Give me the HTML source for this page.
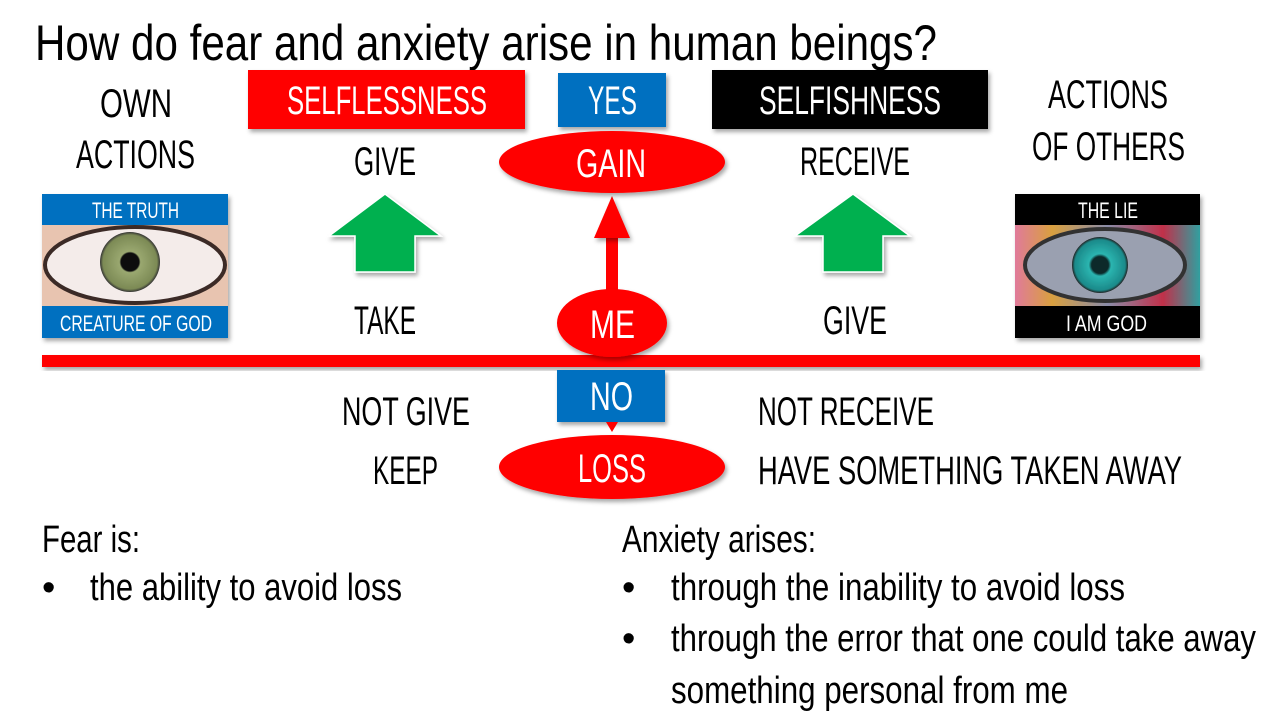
<!DOCTYPE html>
<html><head><meta charset="utf-8"><style>
html,body{margin:0;padding:0;background:#fff;width:1280px;height:720px;overflow:hidden}
svg text{font-family:"Liberation Sans Narrow","Liberation Sans",sans-serif}
</style></head><body>
<svg width="1280" height="720" viewBox="0 0 1280 720" xmlns="http://www.w3.org/2000/svg">
<defs>
<filter id="sh" x="-10%" y="-10%" width="130%" height="140%"><feDropShadow dx="2" dy="3" stdDeviation="2" flood-color="#000" flood-opacity="0.35"/></filter>
<radialGradient id="iris1" cx="50%" cy="50%" r="50%"><stop offset="0" stop-color="#111"/><stop offset="0.3" stop-color="#111"/><stop offset="0.35" stop-color="#9aa870"/><stop offset="0.9" stop-color="#7c8a55"/><stop offset="1" stop-color="#333"/></radialGradient>
<radialGradient id="iris2" cx="50%" cy="50%" r="50%"><stop offset="0" stop-color="#0a2a2a"/><stop offset="0.3" stop-color="#0a2a2a"/><stop offset="0.4" stop-color="#2bb5b0"/><stop offset="0.9" stop-color="#1b8a8a"/><stop offset="1" stop-color="#222"/></radialGradient>
<linearGradient id="rain" x1="0" x2="1"><stop offset="0" stop-color="#e07a9a"/><stop offset="0.2" stop-color="#d9a040"/><stop offset="0.5" stop-color="#8a8ca8"/><stop offset="0.8" stop-color="#c0304a"/><stop offset="1" stop-color="#30a0a0"/></linearGradient>
</defs>
<g font-size="48" fill="#000">
<text x="35" y="60" textLength="902" lengthAdjust="spacingAndGlyphs" font-size="50">How do fear and anxiety arise in human beings?</text>
</g>
<g font-size="40" fill="#000">
<text x="100" y="117" textLength="72" lengthAdjust="spacingAndGlyphs">OWN</text>
<text x="76" y="168" textLength="119" lengthAdjust="spacingAndGlyphs">ACTIONS</text>
<text x="1048" y="108" textLength="120" lengthAdjust="spacingAndGlyphs">ACTIONS</text>
<text x="1032" y="160" textLength="153" lengthAdjust="spacingAndGlyphs">OF OTHERS</text>
<text x="354" y="175" textLength="62" lengthAdjust="spacingAndGlyphs">GIVE</text>
<text x="800" y="175" textLength="110" lengthAdjust="spacingAndGlyphs">RECEIVE</text>
<text x="354" y="334" textLength="62" lengthAdjust="spacingAndGlyphs">TAKE</text>
<text x="823" y="334" textLength="64" lengthAdjust="spacingAndGlyphs">GIVE</text>
<text x="342" y="425" textLength="128" lengthAdjust="spacingAndGlyphs">NOT GIVE</text>
<text x="758" y="425" textLength="176" lengthAdjust="spacingAndGlyphs">NOT RECEIVE</text>
<text x="373" y="484" textLength="65" lengthAdjust="spacingAndGlyphs">KEEP</text>
<text x="758" y="484" textLength="424" lengthAdjust="spacingAndGlyphs">HAVE SOMETHING TAKEN AWAY</text>
</g>
<!-- top boxes -->
<rect x="248" y="70" width="277" height="59" fill="#f00" filter="url(#sh)"/>
<text x="287" y="114" font-size="40" fill="#fff" textLength="200" lengthAdjust="spacingAndGlyphs">SELFLESSNESS</text>
<rect x="558" y="73" width="108" height="54" fill="#0070c0" filter="url(#sh)"/>
<text x="588" y="114" font-size="40" fill="#fff" textLength="49" lengthAdjust="spacingAndGlyphs">YES</text>
<rect x="712" y="70" width="276" height="59" fill="#000" filter="url(#sh)"/>
<text x="759" y="114" font-size="40" fill="#fff" textLength="182" lengthAdjust="spacingAndGlyphs">SELFISHNESS</text>
<!-- green arrows -->
<polygon points="385,194 441,236 415,236 415,272 355,272 355,236 329,236" fill="#00b050" stroke="#fff" stroke-width="1.5" filter="url(#sh)"/>
<polygon points="853,194 910,236 883,236 883,272 823,272 823,236 795,236" fill="#00b050" stroke="#fff" stroke-width="1.5" filter="url(#sh)"/>
<!-- red line -->
<rect x="42" y="355" width="1158" height="12" fill="#f00" filter="url(#sh)"/>
<!-- red arrow up -->
<rect x="606" y="236" width="12" height="60" fill="#f00"/>
<polygon points="612,196 630,238 594,238" fill="#f00" filter="url(#sh)"/>
<!-- ellipses -->
<ellipse cx="612" cy="162" rx="113" ry="31" fill="#f00" filter="url(#sh)"/>
<text x="576" y="177" font-size="40" fill="#fff" textLength="70" lengthAdjust="spacingAndGlyphs">GAIN</text>
<ellipse cx="612" cy="323" rx="55" ry="34" fill="#f00" filter="url(#sh)"/>
<text x="590" y="338" font-size="40" fill="#fff" textLength="45" lengthAdjust="spacingAndGlyphs">ME</text>
<rect x="557" y="370" width="108" height="52" fill="#0070c0" filter="url(#sh)"/>
<text x="590" y="410" font-size="40" fill="#fff" textLength="43" lengthAdjust="spacingAndGlyphs">NO</text>
<polygon points="606,422 618,422 612,432" fill="#f00"/>
<ellipse cx="612" cy="467" rx="113" ry="32" fill="#f00" filter="url(#sh)"/>
<text x="578" y="482" font-size="40" fill="#fff" textLength="68" lengthAdjust="spacingAndGlyphs">LOSS</text>
<!-- left image -->
<g filter="url(#sh)">
<rect x="42" y="194" width="186" height="144" fill="#e8c4b0"/>
<ellipse cx="135" cy="265" rx="90" ry="38" fill="#f4ecea" stroke="#3a2a25" stroke-width="4"/>
<circle cx="130" cy="262" r="30" fill="url(#iris1)"/>
<rect x="42" y="194" width="186" height="31" fill="#0070c0"/>
<rect x="42" y="306" width="186" height="32" fill="#0070c0"/>
</g>
<text x="92" y="218" font-size="22" fill="#fff" textLength="87" lengthAdjust="spacingAndGlyphs">THE TRUTH</text>
<text x="60" y="331" font-size="22" fill="#fff" textLength="152" lengthAdjust="spacingAndGlyphs">CREATURE OF GOD</text>
<!-- right image -->
<g filter="url(#sh)">
<rect x="1015" y="194" width="185" height="144" fill="url(#rain)"/>
<ellipse cx="1105" cy="265" rx="80" ry="36" fill="#9aa0b0" stroke="#333" stroke-width="4"/>
<circle cx="1100" cy="265" r="28" fill="url(#iris2)"/>
<rect x="1015" y="194" width="185" height="31" fill="#000"/>
<rect x="1015" y="306" width="185" height="32" fill="#000"/>
</g>
<text x="1078" y="218" font-size="22" fill="#fff" textLength="60" lengthAdjust="spacingAndGlyphs">THE LIE</text>
<text x="1066" y="331" font-size="22" fill="#fff" textLength="81" lengthAdjust="spacingAndGlyphs">I AM GOD</text>
<!-- bottom text -->
<g font-size="38" fill="#000">
<text x="42" y="552" textLength="98" lengthAdjust="spacingAndGlyphs">Fear is:</text>
<text x="42" y="600">•</text>
<text x="90" y="600" textLength="312" lengthAdjust="spacingAndGlyphs">the ability to avoid loss</text>
<text x="622" y="552" textLength="194" lengthAdjust="spacingAndGlyphs">Anxiety arises:</text>
<text x="622" y="600">•</text>
<text x="671" y="600" textLength="454" lengthAdjust="spacingAndGlyphs">through the inability to avoid loss</text>
<text x="622" y="651">•</text>
<text x="671" y="651" textLength="585" lengthAdjust="spacingAndGlyphs">through the error that one could take away</text>
<text x="671" y="703" textLength="397" lengthAdjust="spacingAndGlyphs">something personal from me</text>
</g>
</svg>
</body></html>
